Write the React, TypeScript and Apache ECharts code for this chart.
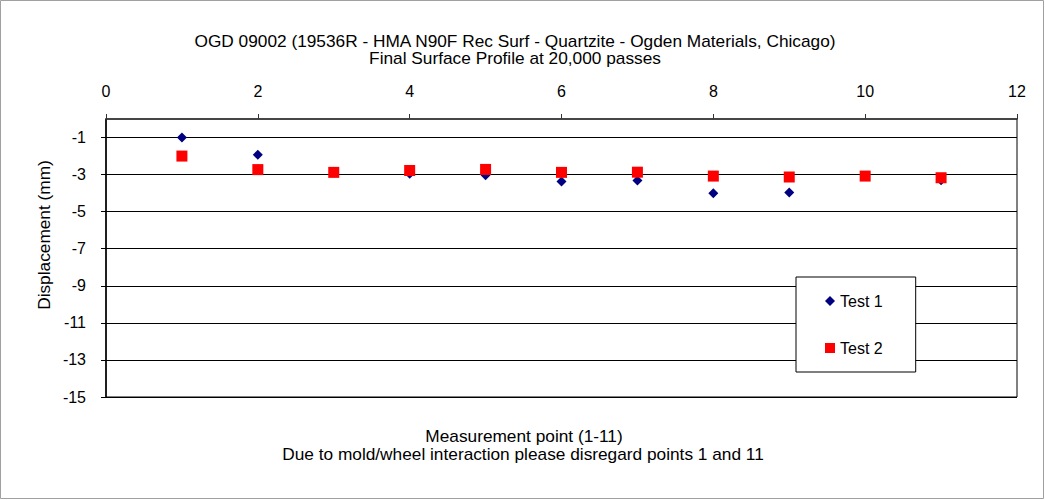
import React, { useEffect, useRef } from "react";
import * as echarts from "echarts";

// Measurement points along the specimen (1-11)
const points = [1, 2, 3, 4, 5, 6, 7, 8, 9, 10, 11];
// Final displacement (mm) after 20,000 passes
const test1 = [-1.0, -1.93, -2.85, -2.95, -3.03, -3.37, -3.32, -4.0, -3.97, -3.08, -3.3];
const test2 = [-2.0, -2.73, -2.88, -2.78, -2.72, -2.88, -2.87, -3.08, -3.13, -3.08, -3.17];
// Y axis ticks shown on the left
const yTicks = [-15, -13, -11, -9, -7, -5, -3, -1];

const FONT = "'Liberation Sans', Arial, sans-serif";

const label = (text: string, x: number, y: number, rotation = 0) => ({
  type: "text",
  x,
  y,
  rotation,
  scaleX: 1.08,
  style: {
    text,
    fontSize: 16,
    fontFamily: FONT,
    fill: "#000",
    align: "center",
    verticalAlign: "middle",
  },
});

export default function App() {
  const ref = useRef<HTMLDivElement>(null);

  useEffect(() => {
    if (!ref.current) return;
    const chart = echarts.init(ref.current, null, { renderer: "svg" });
    const pairs = (ys: number[]) => points.map((x, i) => [x, ys[i]]);

    chart.setOption({
      animation: false,
      backgroundColor: "#ffffff",
      textStyle: { fontFamily: FONT },
      grid: {
        left: 106,
        top: 119,
        width: 911,
        height: 278,
        show: true,
        borderColor: "#000",
        borderWidth: 1,
        backgroundColor: "transparent",
      },
      xAxis: {
        type: "value",
        position: "top",
        min: 0,
        max: 12,
        interval: 2,
        axisLine: { show: true, onZero: false, lineStyle: { color: "#333", width: 1.5 } },
        axisTick: { show: true, inside: false, length: 5, lineStyle: { color: "#333" } },
        axisLabel: { margin: 20, fontSize: 16, color: "#000", fontFamily: FONT },
        splitLine: { show: false },
      },
      yAxis: {
        type: "value",
        min: -15,
        max: 0,
        axisLine: { show: true, onZero: false, lineStyle: { color: "#000", width: 1.5 } },
        axisTick: { show: true, length: 5, customValues: yTicks, lineStyle: { color: "#000" } },
        axisLabel: {
          customValues: yTicks,
          margin: 20,
          fontSize: 16,
          color: "#000",
          fontFamily: FONT,
        },
        splitLine: { show: true, lineStyle: { color: "#000", width: 1 } },
      },
      legend: {
        left: 796,
        top: 277,
        orient: "vertical",
        backgroundColor: "#fff",
        borderColor: "#000",
        borderWidth: 1,
        padding: [16, 33, 16, 29],
        itemGap: 31,
        itemWidth: 10,
        itemHeight: 10,
        textStyle: { fontSize: 16, color: "#000", fontFamily: FONT, lineHeight: 16 },
        data: [
          { name: "Test 1", icon: "diamond" },
          { name: "Test 2", icon: "rect" },
        ],
      },
      graphic: [
        {
          type: "rect",
          shape: { x: 0.5, y: 0.5, width: 1043, height: 498 },
          style: { fill: "none", stroke: "#a0a0a0", lineWidth: 1 },
          silent: true,
        },
        label(
          "OGD 09002 (19536R - HMA N90F Rec Surf - Quartzite - Ogden Materials, Chicago)",
          515,
          42
        ),
        label("Final Surface Profile at 20,000 passes", 515, 59),
        label("Displacement (mm)", 45, 235, Math.PI / 2),
        label("Measurement point (1-11)", 524, 437),
        label("Due to mold/wheel interaction please disregard points 1 and 11", 523, 455),
      ],
      series: [
        {
          name: "Test 1",
          type: "scatter",
          symbol: "diamond",
          symbolSize: 10,
          itemStyle: { color: "#000080", opacity: 1 },
          data: pairs(test1),
        },
        {
          name: "Test 2",
          type: "scatter",
          symbol: "rect",
          symbolSize: 11,
          itemStyle: { color: "#ff0000", opacity: 1 },
          data: pairs(test2),
        },
      ],
    });

    return () => chart.dispose();
  }, []);

  return (
    <div
      ref={ref}
      style={{ position: "fixed", left: 0, top: 0, width: 1045, height: 500 }}
    />
  );
}
